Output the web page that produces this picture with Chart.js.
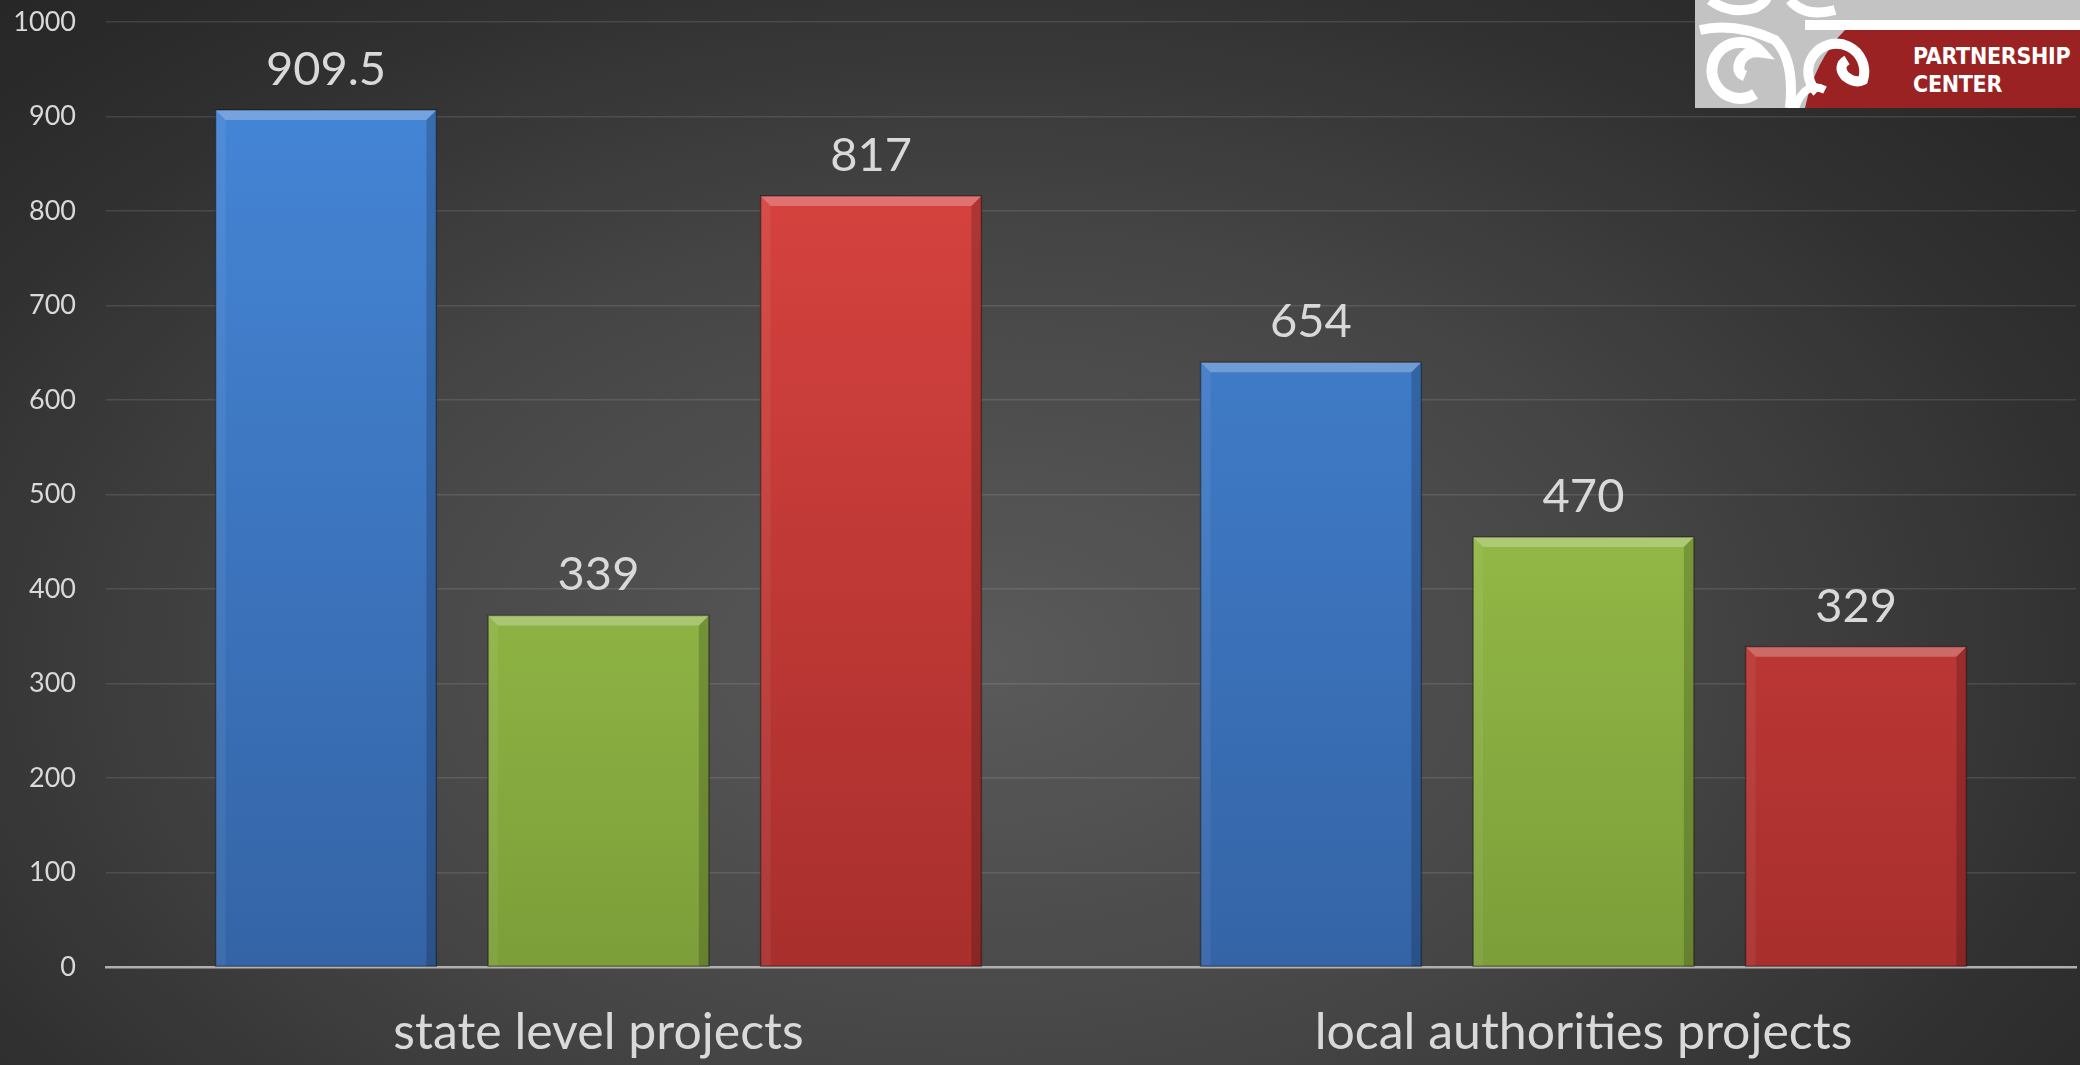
<!DOCTYPE html>
<html>
<head>
<meta charset="utf-8">
<script src="https://cdn.jsdelivr.net/npm/chart.js@4.4.0/dist/chart.umd.min.js"></script>
<style>
    html, body { margin: 0; padding: 0; }
    body {
        width: 2080px; height: 1065px; overflow: hidden; position: relative;
        background: radial-gradient(ellipse 70% 85% at 47% 62%, #5a5a5a 0%, #464646 45%, #2f2f2f 80%, #262626 100%);
        font-family: Lato, "Open Sans", sans-serif;
    }
    #wrap { position: absolute; left: 0; top: 0; width: 2080px; height: 1065px; }
    .logo { position: absolute; right: 0; top: 0; width: 385px; height: 108px; background: #c3c3c3; overflow: hidden; }
    .logo svg { position: absolute; left: 0; top: 0; }
    .logo .txt {
        position: absolute; left: 218px; top: 42px; color: #fff; font-weight: bold;
        font-family: "Liberation Sans Narrow", "DejaVu Sans Condensed", sans-serif;
        font-size: 23px; line-height: 28px; letter-spacing: -0.3px;
    }
</style>
</head>
<body>
<div id="wrap"><canvas id="barChart"></canvas></div>

<div class="logo">
    <svg width="385" height="108" viewBox="0 0 385 108">
        <!-- white line + red band -->
        <rect x="110" y="20" width="275" height="10" fill="#ffffff"/>
        <path d="M150 30 L385 30 L385 108 L110 108 Q120 60 150 30 Z" fill="#9b2222"/>
        <!-- left swirls -->
        <path d="M15 0 Q35 15 60 8 Q75 0 70 -5" stroke="#fff" stroke-width="10" fill="none"/>
        <path d="M95 0 Q110 18 140 10" stroke="#fff" stroke-width="10" fill="none"/>
        <path d="M60 94 A28 28 0 1 1 66 52 Q52 50 46 60 Q40 72 50 76" stroke="#fff" stroke-width="11" fill="none"/>
        <path d="M5 30 Q40 22 80 40 Q100 60 95 108" stroke="#fff" stroke-width="10" fill="none"/>
        <!-- red swirl -->
        <path d="M122 92 A28 28 0 1 1 168 80 Q160 84 150 76 Q142 66 152 60" stroke="#fff" stroke-width="10" fill="none"/>
        <path d="M100 108 Q110 80 130 90" stroke="#fff" stroke-width="8" fill="none"/>
    </svg>
    <div class="txt">PARTNERSHIP<br>CENTER</div>
</div>

<script>
// ---------- data ----------
const categories = ['state level projects', 'local authorities projects'];
const blueValues  = [907, 640];
const greenValues = [372, 455];
const redValues   = [816, 339];
// texts printed above the bars (as written in the picture)
const blueLabels  = ['909.5', '654'];
const greenLabels = ['339', '470'];
const redLabels   = ['817', '329'];
const yTicks = [0, 100, 200, 300, 400, 500, 600, 700, 800, 900, 1000];

// ---------- styles ----------
const textColor = '#d9d9d9';

function barGradient(top, bottom) {
    return function(context) {
        const chart = context.chart;
        const area = chart.chartArea;
        if (!area) return top;
        const g = chart.ctx.createLinearGradient(0, area.top, 0, area.bottom);
        g.addColorStop(0, top);
        g.addColorStop(1, bottom);
        return g;
    };
}

// bevel on bar tops and sides
const bevelPlugin = {
    id: 'bevel',
    afterDatasetsDraw(chart) {
        const ctx = chart.ctx;
        chart.data.datasets.forEach((ds, i) => {
            const meta = chart.getDatasetMeta(i);
            meta.data.forEach(bar => {
                const l = bar.x - bar.width / 2, r = bar.x + bar.width / 2;
                const t = bar.y, b = bar.base, d = 10;
                ctx.save();
                // top highlight
                ctx.fillStyle = 'rgba(255,255,255,0.26)';
                ctx.beginPath();
                ctx.moveTo(l, t); ctx.lineTo(r, t); ctx.lineTo(r - d, t + d); ctx.lineTo(l + d, t + d);
                ctx.closePath(); ctx.fill();
                // left edge
                ctx.fillStyle = 'rgba(255,255,255,0.06)';
                ctx.beginPath();
                ctx.moveTo(l, t); ctx.lineTo(l + d, t + d); ctx.lineTo(l + d, b); ctx.lineTo(l, b);
                ctx.closePath(); ctx.fill();
                // right edge
                ctx.fillStyle = 'rgba(0,0,0,0.18)';
                ctx.beginPath();
                ctx.moveTo(r, t); ctx.lineTo(r - d, t + d); ctx.lineTo(r - d, b); ctx.lineTo(r, b);
                ctx.closePath(); ctx.fill();
                // outline
                ctx.strokeStyle = 'rgba(0,0,0,0.35)';
                ctx.lineWidth = 1.5;
                ctx.strokeRect(l, t, r - l, b - t);
                ctx.restore();
            });
        });
    }
};

// value texts above bars
const valueLabelPlugin = {
    id: 'valueLabels',
    afterDatasetsDraw(chart) {
        const ctx = chart.ctx;
        ctx.save();
        ctx.fillStyle = textColor;
        ctx.font = '47px Lato, "Open Sans", sans-serif';
        ctx.textAlign = 'center';
        ctx.textBaseline = 'alphabetic';
        chart.data.datasets.forEach((ds, i) => {
            const meta = chart.getDatasetMeta(i);
            meta.data.forEach((bar, j) => {
                ctx.fillText(ds.valueTexts[j], bar.x, bar.y - 25);
            });
        });
        ctx.restore();
    }
};

const canvas = document.getElementById('barChart');
canvas.width = 2080;
canvas.height = 1065;

new Chart(canvas, {
    type: 'bar',
    data: {
        labels: categories,
        datasets: [
            { label: 'blue',  data: blueValues,  valueTexts: blueLabels,  backgroundColor: barGradient('#4688da', '#3464a6') },
            { label: 'green', data: greenValues, valueTexts: greenLabels, backgroundColor: barGradient('#acd655', '#7c9e39') },
            { label: 'red',   data: redValues,   valueTexts: redLabels,   backgroundColor: barGradient('#df4642', '#a82f2d') }
        ]
    },
    options: {
        responsive: false,
        animation: false,
        devicePixelRatio: 1,
        categoryPercentage: 0.83,
        barPercentage: 0.81,
        layout: { padding: { top: 0, right: 4, left: 0, bottom: 0 } },
        plugins: {
            legend: { display: false },
            tooltip: { enabled: false }
        },
        scales: {
            x: {
                grid: { display: false, drawTicks: false },
                border: { display: true, color: '#b0b0b0', width: 2.5 },
                ticks: {
                    color: textColor,
                    font: { family: 'Lato, "Open Sans", sans-serif', size: 50 },
                    padding: 36
                },
                afterFit(scale) {
                    scale.height = 98;
                    scale.paddingTop = 0; scale.paddingBottom = 0;
                }
            },
            y: {
                min: 0,
                max: 1000,
                afterBuildTicks(scale) { scale.ticks = yTicks.map(v => ({ value: v })); },
                grid: { color: 'rgba(255,255,255,0.11)', lineWidth: 1.5, drawTicks: false },
                border: { display: false },
                ticks: {
                    color: textColor,
                    font: { family: 'Lato, "Open Sans", sans-serif', size: 27 },
                    padding: 30,
                    callback: v => String(v)
                },
                afterFit(scale) {
                    scale.width = 106;
                    scale.paddingTop = 22; scale.paddingBottom = 0;
                }
            }
        }
    },
    plugins: [bevelPlugin, valueLabelPlugin]
});
</script>
</body>
</html>
